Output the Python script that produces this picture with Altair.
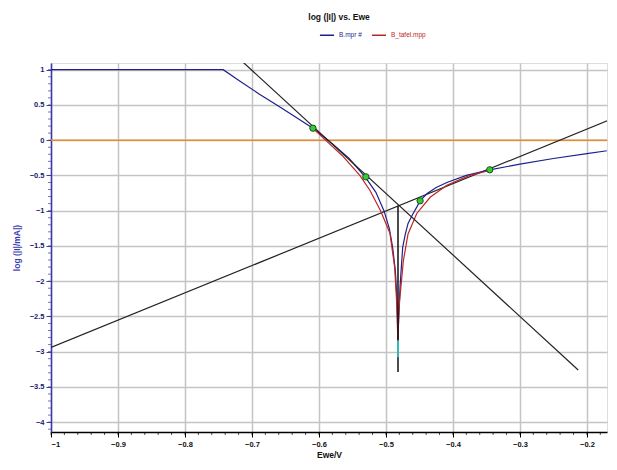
import altair as alt
import pandas as pd

# ---- data ----
blue_x = [-1.0, -0.743, -0.72, -0.69, -0.66, -0.635, -0.609, -0.58, -0.555, -0.531,
          -0.515, -0.503, -0.495, -0.490, -0.486, -0.484, -0.4828, -0.4822,
          -0.4808, -0.479, -0.477, -0.475, -0.471, -0.467, -0.460, -0.454, -0.449,
          -0.439, -0.425, -0.409, -0.380, -0.345, -0.30, -0.25, -0.20, -0.155]
blue_y = [1.0, 1.0, 0.85, 0.66, 0.48, 0.33, 0.17, -0.05, -0.26, -0.52,
          -0.74, -1.0, -1.25, -1.52, -1.85, -2.17, -2.5, -2.84,
          -2.5, -2.09, -1.8, -1.52, -1.33, -1.18, -1.05, -0.95, -0.86,
          -0.76, -0.67, -0.60, -0.50, -0.42, -0.34, -0.26, -0.19, -0.13]

red_x = [-0.609, -0.589, -0.565, -0.539, -0.524, -0.508, -0.494, -0.487, -0.484,
         -0.4822, -0.481, -0.4795, -0.474, -0.467, -0.454, -0.434, -0.409, -0.375, -0.345]
red_y = [0.17, -0.01, -0.22, -0.50, -0.71, -1.0, -1.32, -1.80, -2.3,
         -2.84, -2.5, -2.27, -1.71, -1.33, -1.04, -0.81, -0.64, -0.50, -0.43]

fit_x = [-0.609, -0.530, -0.449, -0.345]
fit_y = [0.17, -0.52, -0.86, -0.42]

cath_x = [-0.72, -0.213]
cath_y = [1.165, -3.26]
anod_x = [-1.0, -0.15]
anod_y = [-2.94, 0.35]
ecorr_x = [-0.482, -0.482]
ecorr_y = [-0.93, -3.29]
tail_x = [-0.482, -0.482]
tail_y = [-2.84, -3.08]
zero_y = [0.0]

# axis ticks
x_major = [-1.0, -0.9, -0.8, -0.7, -0.6, -0.5, -0.4, -0.3, -0.2]
x_minor = [round(-1.0 + 0.02 * i, 2) for i in range(42)]
y_major = [1.0, 0.5, 0.0, -0.5, -1.0, -1.5, -2.0, -2.5, -3.0, -3.5, -4.0]
y_minor = [round(-4.1 + 0.1 * i, 1) for i in range(52)]
X_MIN, X_MAX = -1.0, -0.170
Y_MIN, Y_MAX = -4.14, 1.095

FONT = "Liberation Sans"
NAVY = "#1f1f8f"
RED = "#c02424"
YAX = "#3a3aa8"

xs = alt.Scale(domain=[X_MIN, X_MAX], nice=False, zero=False)
ys = alt.Scale(domain=[Y_MIN, Y_MAX], nice=False, zero=False)

x_axis = alt.Axis(
    values=x_major, format=".1~f", title="Ewe/V",
    tickSize=5, grid=True, gridColor="#c4c4c4", gridWidth=1.5,
    domainColor="#000000", domainWidth=1.5, tickColor="#000000",
    labelFont=FONT, labelFontSize=7.5, labelFontWeight="bold", labelColor="#111111",
    labelPadding=3, titleFont=FONT, titleFontSize=8.5, titleFontWeight="bold",
    titleColor="#111111", titlePadding=3,
)
y_axis = alt.Axis(
    values=y_major, format=".1~f", title="log (|I|/mA|)",
    tickSize=5, grid=True, gridColor="#c4c4c4", gridWidth=1.5,
    domainColor=YAX, domainWidth=1.5, tickColor=YAX,
    labelFont=FONT, labelFontSize=7.5, labelFontWeight="bold", labelColor="#1a1a70",
    labelPadding=2, titleFont=FONT, titleFontSize=8.5, titleFontWeight="bold",
    titleColor="#3a3ab0", titlePadding=8,
)

df_blue = pd.DataFrame({"x": blue_x, "y": blue_y, "s": "B.mpr #"})
df_red = pd.DataFrame({"x": red_x, "y": red_y, "s": "B_tafel.mpp"})
df_curves = pd.concat([df_blue, df_red], ignore_index=True)
df_curves["i"] = range(len(df_curves))
df_fit = pd.DataFrame({"x": fit_x, "y": fit_y})
df_cath = pd.DataFrame({"x": cath_x, "y": cath_y})
df_anod = pd.DataFrame({"x": anod_x, "y": anod_y})
df_ecorr = pd.DataFrame({"x": ecorr_x, "y": ecorr_y})
df_tail = pd.DataFrame({"x": tail_x, "y": tail_y})
df_zero = pd.DataFrame({"y": zero_y})
df_xminor = pd.DataFrame({"x": x_minor, "y": Y_MIN})
df_yminor = pd.DataFrame({"y": y_minor, "x": X_MIN})

X = alt.X("x:Q", scale=xs, axis=x_axis)
Y = alt.Y("y:Q", scale=ys, axis=y_axis)

curves = alt.Chart(df_curves).mark_line(strokeWidth=1.2, clip=True).encode(
    x=X, y=Y, order="i:Q",
    color=alt.Color("s:N", scale=alt.Scale(domain=["B.mpr #", "B_tafel.mpp"], range=[NAVY, RED]),
                    legend=alt.Legend(orient="none", legendX=268, legendY=-36, title=None,
                                      direction="horizontal", columnPadding=6,
                                      symbolType="stroke", symbolSize=200, symbolStrokeWidth=1.5,
                                      labelColor=alt.ExprRef(expr=f"datum.value == 'B.mpr #' ? '{NAVY}' : '{RED}'"),
                                      labelFont=FONT, labelFontSize=6.5)),
)

zero = alt.Chart(df_zero).mark_rule(color="#e8892a", strokeWidth=1.5).encode(y=Y)
anod = alt.Chart(df_anod).mark_line(color="#222222", strokeWidth=1.2, clip=True).encode(x=X, y=Y)
cath = alt.Chart(df_cath).mark_line(color="#222222", strokeWidth=1.2, clip=True).encode(x=X, y=Y)
ecorr = alt.Chart(df_ecorr).mark_line(color="#111111", strokeWidth=1.5).encode(x=X, y=Y)
tail = alt.Chart(df_tail).mark_line(color="#33dddd", strokeWidth=1.5).encode(x=X, y=Y)
xminor = alt.Chart(df_xminor).mark_tick(orient="vertical", size=3, thickness=1,
                                        color="#000000", yOffset=1.5).encode(x=X, y=Y)
yminor = alt.Chart(df_yminor).mark_tick(orient="horizontal", size=3, thickness=1,
                                        color=YAX, xOffset=-1.5).encode(x=X, y=Y)
pts = alt.Chart(df_fit).mark_point(filled=True, fill="#33cc33", stroke="#1f4f1f",
                                   strokeWidth=1, size=40, opacity=1).encode(x=X, y=Y)

chart = alt.layer(zero, anod, xminor, yminor, curves, cath, ecorr, tail, pts).properties(
    width=556, height=369,
    padding={"left": 4, "top": 4, "right": 0, "bottom": 0},
    background="white",
    title=alt.TitleParams("log (|I|) vs. Ewe", font=FONT, fontSize=8.5, fontWeight="bold",
                          color="#111111", anchor="middle", offset=6, dx=10),
)

chart.save("out.html", embed_options={"renderer": "svg", "actions": False})
